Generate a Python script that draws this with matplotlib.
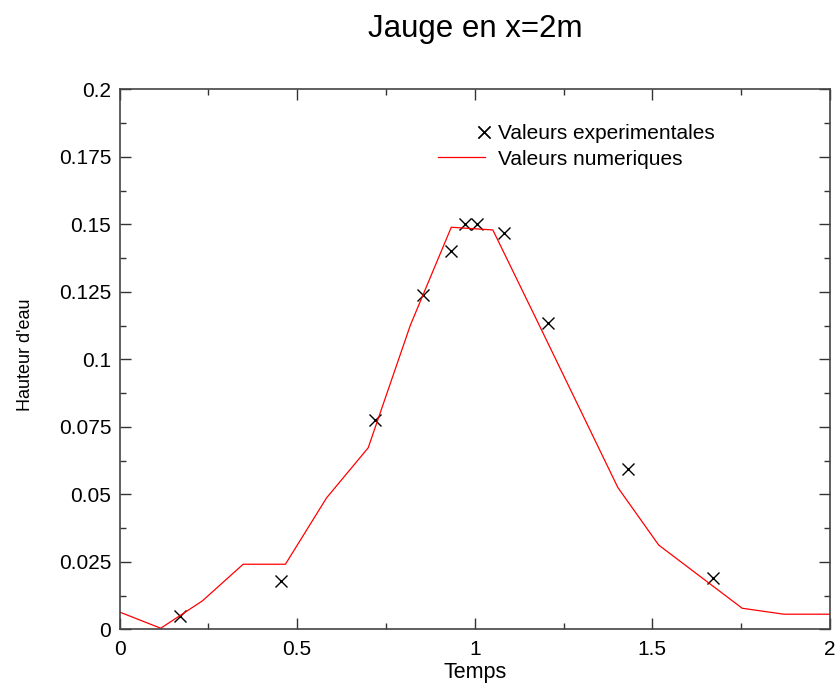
import matplotlib
matplotlib.use("Agg")
import matplotlib.pyplot as plt
from matplotlib.legend_handler import HandlerLine2D
from matplotlib.ticker import MultipleLocator

plt.rcParams['font.family'] = ['Liberation Sans', 'DejaVu Sans']

# Numerical results (red line)
t_num = [0.0, 0.116, 0.233, 0.348, 0.467, 0.583, 0.700, 0.819, 0.934, 1.051,
         1.188, 1.403, 1.518, 1.753, 1.870, 2.0]
h_num = [0.0064, 0.0004, 0.0105, 0.0241, 0.0241, 0.0487, 0.0672, 0.1127, 0.1489, 0.1479,
         0.1109, 0.0525, 0.0312, 0.0078, 0.0056, 0.0056]

# Experimental values (crosses)
t_exp = [0.170, 0.454, 0.719, 0.854, 0.932, 0.972, 1.006, 1.082, 1.205, 1.431, 1.672]
h_exp = [0.0050, 0.0179, 0.0775, 0.1239, 0.1402, 0.1501, 0.1501, 0.1467, 0.1134, 0.0594, 0.0189]

xticks = [0, 0.5, 1, 1.5, 2]
xtick_labels = ['0', '0.5', '1', '1.5', '2']
yticks = [0, 0.025, 0.05, 0.075, 0.1, 0.125, 0.15, 0.175, 0.2]
ytick_labels = ['0', '0.025', '0.05', '0.075', '0.1', '0.125', '0.15', '0.175', '0.2']


class RightMarkerHandler(HandlerLine2D):
    """Legend handler that places the single marker at the right end of the sample."""
    def get_xdata(self, legend, xdescent, ydescent, width, height, fontsize):
        xr = -xdescent + width - 1.0
        return [xr, xr], [xr, xr]


fig = plt.figure(figsize=(8.4, 6.83), dpi=100)
ax = fig.add_axes([0.1423, 0.0786, 0.988 - 0.1423, 0.8693 - 0.0786])

line_exp, = ax.plot(t_exp, h_exp, linestyle='none', marker='x', color='black',
                    markersize=8.5, markeredgewidth=1.0, label='Valeurs experimentales')
line_num, = ax.plot(t_num, h_num, color='red', linewidth=0.9, label='Valeurs numeriques')

ax.set_xlim(0, 2)
ax.set_ylim(0, 0.2)
ax.set_xticks(xticks)
ax.set_xticklabels(xtick_labels)
ax.set_yticks(yticks)
ax.set_yticklabels(ytick_labels)
ax.xaxis.set_minor_locator(MultipleLocator(0.25))
ax.yaxis.set_minor_locator(MultipleLocator(0.0125))
ax.tick_params(which='both', direction='in', top=True, right=True, color='#333333')
ax.tick_params(which='major', length=8, width=1, labelsize=15, pad=6)
ax.tick_params(axis='x', which='major', pad=8)
ax.tick_params(which='minor', length=4, width=1)
for s in ax.spines.values():
    s.set_color('#444444')
    s.set_linewidth(1.2)

ax.set_xlabel('Temps', fontsize=15.5, labelpad=1.5)
ax.set_ylabel("Hauteur d'eau", fontsize=13)
ax.yaxis.set_label_coords(-0.121, 0.508)
fig.text(0.5655, 0.958, 'Jauge en x=2m', fontsize=22.5, ha='center', va='center')

leg = ax.legend(handles=[line_exp, line_num], loc='upper left',
                bbox_to_anchor=(0.4485, 0.935), frameon=False, fontsize=15,
                handlelength=2.25, handletextpad=0.6, labelspacing=0.3,
                borderaxespad=0, borderpad=0,
                handler_map={line_exp: RightMarkerHandler(numpoints=2)})

fig.savefig('out.png', dpi=100)
